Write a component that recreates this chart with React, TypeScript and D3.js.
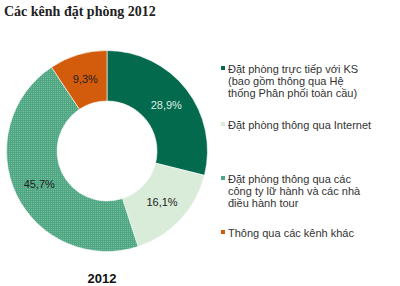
import React from "react";
import * as d3 from "d3";

const categories = [
  ["Đặt phòng trực tiếp với KS", "(bao gồm thông qua Hệ", "thống Phân phối toàn cầu)"],
  ["Đặt phòng thông qua Internet"],
  ["Đặt phòng thông qua các", "công ty lữ hành và các nhà", "điều hành tour"],
  ["Thông qua các kênh khác"],
];
const values = [28.9, 16.1, 45.7, 9.3];
const valueLabels = ["28,9%", "16,1%", "45,7%", "9,3%"];
const colors = ["#036a4e", "#d9ecd9", "url(#hatch)", "#d35b0c"];
const legendColors = ["#036a4e", "#d9ecd9", "#4ea683", "#d35b0c"];
const labelColors = ["#dcefe5", "#222", "#222", "#222"];
const legendY = [69, 125, 179, 233];
const title = "Các kênh đặt phòng 2012";
const yearLabel = "2012";

export default function App() {
  const cx = 107, cy = 151, rO = 100.5, rI = 50;
  const pie = d3.pie<number>().sort(null).value((d) => d);
  const arcs = pie(values);
  const arc = d3.arc<d3.PieArcDatum<number>>().innerRadius(rI).outerRadius(rO);
  const font = "'Liberation Sans', Arial, sans-serif";
  return (
    <svg width={400} height={286} style={{ position: "absolute", left: 0, top: 0 }}>
      <defs>
        <pattern id="hatch" width="2" height="2" patternUnits="userSpaceOnUse">
          <rect width="2" height="2" fill="#4ea683" />
          <rect width="1" height="1" fill="#78bd9e" />
        </pattern>
      </defs>
      <rect width={400} height={286} fill="#fff" />
      <text x={4} y={16} fontFamily="'Liberation Serif', 'Times New Roman', serif" fontWeight="bold" fontSize={14} fill="#222">
        {title}
      </text>
      <g transform={`translate(${cx},${cy})`}>
        {arcs.map((a, i) => (
          <path key={i} d={arc(a) || ""} fill={colors[i]} stroke="#fff" strokeWidth={0.6} />
        ))}
        {arcs.map((a, i) => {
          const [x, y] = arc.centroid(a);
          return (
            <text key={i} x={x} y={y} dy="0.35em" textAnchor="middle" fontFamily={font} fontSize={11} fill={labelColors[i]}>
              {valueLabels[i]}
            </text>
          );
        })}
      </g>
      {categories.map((lines, i) => (
        <g key={i}>
          <rect x={221} y={legendY[i] - 3} width={4} height={4} fill={legendColors[i]} />
          {lines.map((l, j) => (
            <text key={j} x={228} y={legendY[i] + j * 12} dy="0.35em" fontFamily={font} fontSize={11} fill="#333">
              {l}
            </text>
          ))}
        </g>
      ))}
      <text x={102} y={283} textAnchor="middle" fontFamily={font} fontWeight="bold" fontSize={13} fill="#111">
        {yearLabel}
      </text>
    </svg>
  );
}
